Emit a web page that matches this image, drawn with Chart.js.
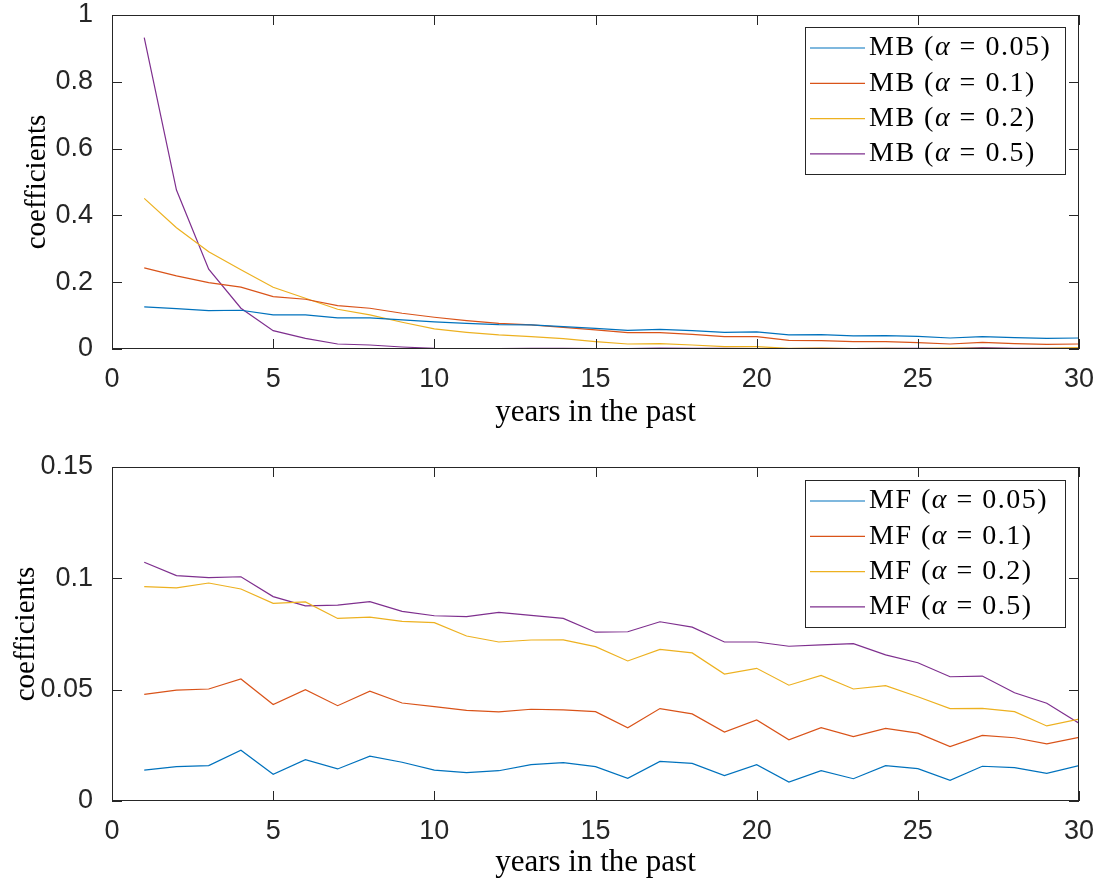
<!DOCTYPE html>
<html>
<head>
<meta charset="utf-8">
<script src="https://cdn.jsdelivr.net/npm/chart.js@4/dist/chart.umd.min.js"></script>
<style>
  body { margin: 0; background: #fff; }
  .panel { position: absolute; left: 0; width: 1103px; height: 441px; }
</style>
</head>
<body>
<div class="panel" style="top:0"><canvas id="topChart" width="1103" height="441"></canvas></div>
<div class="panel" style="top:441px"><canvas id="bottomChart" width="1103" height="441"></canvas></div>
<script>
// years in the past (x values)
const years = [1, 2, 3, 4, 5, 6, 7, 8, 9, 10, 11, 12, 13, 14, 15, 16, 17, 18, 19, 20, 21, 22, 23, 24, 25, 26, 27, 28, 29, 30];

// model-based coefficients
const mb005 = [0.126, 0.121, 0.115, 0.116, 0.102, 0.102, 0.093, 0.093, 0.087, 0.081, 0.077, 0.073, 0.072, 0.067, 0.062, 0.056, 0.059, 0.055, 0.050, 0.051, 0.042, 0.043, 0.039, 0.040, 0.038, 0.033, 0.037, 0.034, 0.032, 0.033];
const mb01 = [0.243, 0.219, 0.199, 0.185, 0.157, 0.149, 0.130, 0.122, 0.107, 0.095, 0.085, 0.077, 0.072, 0.065, 0.057, 0.049, 0.049, 0.044, 0.037, 0.037, 0.026, 0.025, 0.022, 0.022, 0.019, 0.015, 0.020, 0.016, 0.014, 0.015];
const mb02 = [0.451, 0.363, 0.291, 0.237, 0.185, 0.152, 0.119, 0.102, 0.080, 0.060, 0.050, 0.042, 0.037, 0.031, 0.022, 0.015, 0.016, 0.012, 0.007, 0.007, 0.002, 0.003, 0.001, 0.002, 0.001, 0.003, 0.002, 0.001, 0.002, 0.004];
const mb05 = [0.932, 0.476, 0.239, 0.122, 0.055, 0.032, 0.015, 0.012, 0.006, 0.002, 0.001, 0.001, 0.002, 0.002, 0.001, 0.001, 0.003, 0.002, 0.002, 0.001, 0.001, 0.002, 0.001, 0.002, 0.002, 0.001, 0.004, 0.002, 0.002, 0.002];

// model-free coefficients
const mf005 = [0.0139, 0.0154, 0.0159, 0.0228, 0.0120, 0.0186, 0.0144, 0.0201, 0.0174, 0.0139, 0.0127, 0.0136, 0.0163, 0.0172, 0.0154, 0.0102, 0.0178, 0.0169, 0.0114, 0.0163, 0.0085, 0.0136, 0.0100, 0.0159, 0.0145, 0.0093, 0.0156, 0.0150, 0.0124, 0.0159];
const mf01 = [0.0479, 0.0498, 0.0503, 0.0548, 0.0433, 0.0500, 0.0428, 0.0493, 0.0440, 0.0424, 0.0407, 0.0400, 0.0412, 0.0409, 0.0401, 0.0329, 0.0415, 0.0391, 0.0310, 0.0364, 0.0275, 0.0329, 0.0289, 0.0326, 0.0305, 0.0244, 0.0295, 0.0284, 0.0257, 0.0286];
const mf02 = [0.0963, 0.0957, 0.0979, 0.0952, 0.0888, 0.0894, 0.0820, 0.0826, 0.0807, 0.0801, 0.0741, 0.0714, 0.0723, 0.0724, 0.0693, 0.0629, 0.0681, 0.0665, 0.0570, 0.0596, 0.0520, 0.0564, 0.0503, 0.0518, 0.0468, 0.0415, 0.0416, 0.0401, 0.0337, 0.0368];
const mf05 = [0.1072, 0.1012, 0.1003, 0.1007, 0.0918, 0.0876, 0.0880, 0.0895, 0.0852, 0.0832, 0.0828, 0.0847, 0.0834, 0.0820, 0.0758, 0.0760, 0.0805, 0.0781, 0.0714, 0.0714, 0.0695, 0.0701, 0.0707, 0.0656, 0.0621, 0.0558, 0.0561, 0.0486, 0.0439, 0.0349];

const mbLabels = ["MB (α = 0.05)", "MB (α = 0.1)", "MB (α = 0.2)", "MB (α = 0.5)"];
const mfLabels = ["MF (α = 0.05)", "MF (α = 0.1)", "MF (α = 0.2)", "MF (α = 0.5)"];
const colors = ["#0072BD", "#D95319", "#EDB120", "#7E2F8E"];

const axisColor = "#262626";
const tickFont = { family: "Liberation Sans, Arial, sans-serif", size: 27 };
const xTitleFont = { family: "Liberation Serif, Times New Roman, serif", size: 31 };
const yTitleFont = { family: "Liberation Serif, Times New Roman, serif", size: 29 };

// box + inward ticks on all four sides, like matlab "box on"
const axesBox = {
  id: "axesBox",
  afterDatasetsDraw(chart) {
    const { ctx, chartArea: a, scales } = chart;
    const len = 10;
    ctx.save();
    ctx.strokeStyle = axisColor;
    ctx.lineWidth = 1;
    ctx.strokeRect(a.left + 0.5, a.top + 0.5, a.right - a.left - 1, a.bottom - a.top - 1);
    ctx.beginPath();
    scales.x.ticks.forEach((t) => {
      const px = Math.round(scales.x.getPixelForValue(t.value)) + 0.5;
      ctx.moveTo(px, a.bottom);
      ctx.lineTo(px, a.bottom - len);
      ctx.moveTo(px, a.top);
      ctx.lineTo(px, a.top + len);
    });
    scales.y.ticks.forEach((t) => {
      const py = Math.round(scales.y.getPixelForValue(t.value)) + 0.5;
      ctx.moveTo(a.left, py);
      ctx.lineTo(a.left + len, py);
      ctx.moveTo(a.right, py);
      ctx.lineTo(a.right - len, py);
    });
    ctx.stroke();
    ctx.restore();
  },
};

// legend drawn inside the axes with a frame, alpha in italics
const boxLegend = {
  id: "boxLegend",
  afterDraw(chart, args, opts) {
    const { ctx } = chart;
    ctx.save();
    ctx.fillStyle = "#fff";
    ctx.fillRect(opts.left, opts.top, opts.width, opts.height);
    ctx.strokeStyle = axisColor;
    ctx.lineWidth = 1;
    ctx.strokeRect(opts.left + 0.5, opts.top + 0.5, opts.width, opts.height);
    const fam = "Liberation Serif, Times New Roman, serif";
    ctx.textBaseline = "middle";
    ctx.letterSpacing = "1.5px";
    chart.data.datasets.forEach((ds, i) => {
      const y = opts.top + opts.firstRow + i * opts.rowGap;
      ctx.strokeStyle = ds.borderColor;
      ctx.lineWidth = 1.2;
      ctx.beginPath();
      ctx.moveTo(opts.left + 5, y);
      ctx.lineTo(opts.left + 60, y);
      ctx.stroke();
      const parts = ds.label.split("α");
      let x = opts.left + 64;
      ctx.fillStyle = "#000";
      ctx.font = "28px " + fam;
      ctx.fillText(parts[0], x, y);
      x += ctx.measureText(parts[0]).width;
      ctx.font = "italic 28px " + fam;
      ctx.fillText("α", x, y);
      x += ctx.measureText("α").width;
      ctx.font = "28px " + fam;
      ctx.fillText(parts[1], x, y);
    });
    ctx.restore();
  },
};

function makeChart(id, series, labels, yMax, yStep, lay) {
  const datasets = series.map((vals, i) => ({
    label: labels[i],
    data: years.map((yr, k) => ({ x: yr, y: vals[k] })),
    borderColor: colors[i],
    borderWidth: 1.2,
    pointRadius: 0,
    tension: 0,
    fill: false,
  }));
  return new Chart(document.getElementById(id), {
    type: "line",
    data: { datasets: datasets },
    plugins: [axesBox, boxLegend],
    options: {
      responsive: false,
      animation: false,
      layout: { autoPadding: false, padding: { left: 0, right: 24, top: lay.top, bottom: 0 } },
      plugins: {
        legend: { display: false },
        tooltip: { enabled: false },
        boxLegend: lay.legend,
      },
      scales: {
        x: {
          type: "linear",
          min: 0,
          max: 30,
          ticks: { stepSize: 5, color: axisColor, font: tickFont, padding: 6, maxRotation: 0 },
          grid: { display: false },
          border: { display: false },
          title: {
            display: true,
            text: "years in the past",
            color: "#000",
            font: xTitleFont,
            padding: { top: 0, bottom: lay.xTitlePad },
          },
          afterFit: (s) => {
            s.height = lay.xHeight;
            s.paddingLeft = 0;
            s.paddingRight = 0;
          },
        },
        y: {
          min: 0,
          max: yMax,
          ticks: {
            stepSize: yStep,
            color: axisColor,
            font: tickFont,
            padding: 11,
            callback: (v) => String(+v.toFixed(2)),
          },
          grid: { display: false },
          border: { display: false },
          title: {
            display: true,
            text: "coefficients",
            color: "#000",
            font: yTitleFont,
            padding: { top: lay.yTitlePad, bottom: lay.yTitlePad },
          },
          afterFit: (s) => {
            s.width = 112;
            s.paddingTop = 0;
            s.paddingBottom = 0;
          },
        },
      },
    },
  });
}

makeChart("topChart", [mb005, mb01, mb02, mb05], mbLabels, 1, 0.2, {
  top: 15,
  xHeight: 92,
  xTitlePad: 10,
  yTitlePad: 20,
  legend: { left: 805, top: 27, width: 260, height: 147, firstRow: 21, rowGap: 35.3 },
});

makeChart("bottomChart", [mf005, mf01, mf02, mf05], mfLabels, 0.15, 0.05, {
  top: 26,
  xHeight: 81,
  xTitlePad: 1,
  yTitlePad: 9,
  legend: { left: 805, top: 39, width: 260, height: 147, firstRow: 21, rowGap: 35.3 },
});
</script>
</body>
</html>
